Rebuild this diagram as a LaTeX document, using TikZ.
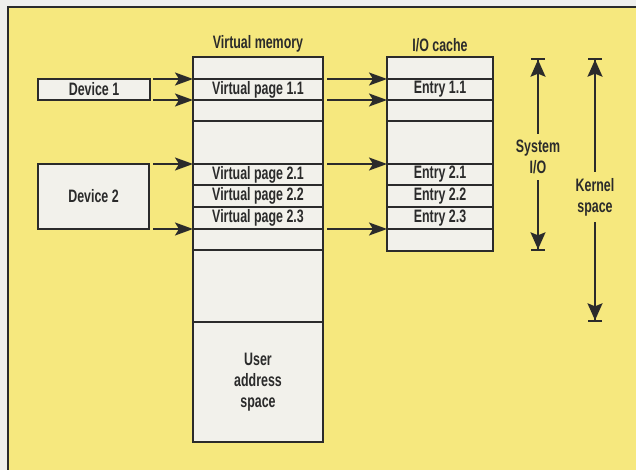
\documentclass[tikz,border=0pt]{standalone}
\usepackage{fontspec}
\setmainfont{Liberation Sans}[FakeStretch=0.69]
\usetikzlibrary{arrows.meta, positioning}
\definecolor{PanelYellow}{HTML}{F6E87E}
\definecolor{PanelOut}{HTML}{EFEFEC}
\definecolor{CellFill}{HTML}{F2F1EB}
\definecolor{InkDark}{HTML}{2B2B2B}

\begin{document}
\begin{tikzpicture}[x=1pt, y=-1pt,
  cell/.style={draw=InkDark, line width=1.3pt, fill=CellFill, inner sep=0pt, outer sep=0pt, align=center, font=\bfseries\fontsize{18}{21}\selectfont, text=InkDark},
  vmcell/.style={cell, minimum width=130pt},
  iocell/.style={cell, minimum width=106pt},
  head/.style={font=\bfseries\fontsize{18}{21}\selectfont, text=InkDark, align=center, inner sep=1pt},
  arrow/.style={-{Stealth[length=18pt, width=13pt, inset=4pt]}, line width=1.7pt, draw=InkDark},
  rangearrow/.style={{Bar[width=14pt]Stealth[length=17pt, width=15pt, inset=3pt]}-{Stealth[length=17pt, width=15pt, inset=3pt]Bar[width=14pt]}, line width=1.7pt, draw=InkDark}
]
  \useasboundingbox (0,0) rectangle (636,470);
  \clip (0,0) rectangle (636,470);
  \fill[PanelOut] (0,0) rectangle (636,470);
  \draw[fill=PanelYellow, draw=InkDark, line width=1.2pt] (8,7) rectangle (650,480);

  % virtual memory column
  \node[vmcell, anchor=north west, minimum height=22pt] (vm0) at (193,57) {};
  \node[vmcell, minimum height=21pt, below=0pt of vm0] (vp11) {Virtual page 1.1};
  \node[vmcell, minimum height=21pt, below=0pt of vp11] (vm2) {};
  \node[vmcell, minimum height=43pt, below=0pt of vm2] (vm3) {};
  \node[vmcell, minimum height=21pt, below=0pt of vm3] (vp21) {Virtual page 2.1};
  \node[vmcell, minimum height=22pt, below=0pt of vp21] (vp22) {Virtual page 2.2};
  \node[vmcell, minimum height=22pt, below=0pt of vp22] (vp23) {Virtual page 2.3};
  \node[vmcell, minimum height=21pt, below=0pt of vp23] (vm7) {};
  \node[vmcell, minimum height=72pt, below=0pt of vm7] (vm8) {};
  \node[vmcell, minimum height=120pt, below=0pt of vm8] (user) {User\\address\\space};
  \node[head, above=4pt of vm0] (vmhead) {Virtual memory};

  % I/O cache column
  \node[iocell, anchor=north west, minimum height=22pt] (io0) at (387,57) {};
  \node[iocell, minimum height=21pt, below=0pt of io0] (e11) {Entry 1.1};
  \node[iocell, minimum height=21pt, below=0pt of e11] (io2) {};
  \node[iocell, minimum height=43pt, below=0pt of io2] (io3) {};
  \node[iocell, minimum height=21pt, below=0pt of io3] (e21) {Entry 2.1};
  \node[iocell, minimum height=22pt, below=0pt of e21] (e22) {Entry 2.2};
  \node[iocell, minimum height=22pt, below=0pt of e22] (e23) {Entry 2.3};
  \node[iocell, minimum height=22pt, below=0pt of e23] (io7) {};
  \node[head, above=4pt of io0] (iohead) {I/O cache};

  % devices
  \node[cell, anchor=north west, minimum width=112pt, minimum height=21pt] (dev1) at (38,79) {Device 1};
  \node[cell, anchor=north west, minimum width=111pt, minimum height=65pt] (dev2) at (38,164) {Device 2};

  \draw[arrow] ([xshift=3pt]dev1.north east) -- (vp11.north west);
  \draw[arrow] ([xshift=3pt]dev1.south east) -- (vp11.south west);
  \draw[arrow] ([xshift=4pt]dev2.north east) -- (vp21.north west);
  \draw[arrow] ([xshift=4pt]dev2.south east) -- (vp23.south west);

  \draw[arrow] ([xshift=4pt]vp11.north east) -- (e11.north west);
  \draw[arrow] ([xshift=4pt]vp11.south east) -- (e11.south west);
  \draw[arrow] ([xshift=4pt]vp21.north east) -- (e21.north west);
  \draw[arrow] ([xshift=4pt]vp23.south east) -- (e23.south west);

  % range markers
  \coordinate (sysTop) at (538,58);
  \coordinate (sysBot) at (538,251);
  \coordinate (kerTop) at (595,58);
  \coordinate (kerBot) at (595,322);
  \draw[rangearrow] (sysTop) -- (sysBot);
  \draw[rangearrow] (kerTop) -- (kerBot);
  \node[head, fill=PanelYellow, inner xsep=2pt, inner ysep=6pt] (syslabel) at (538,157) {System\\I/O};
  \node[head, fill=PanelYellow, inner xsep=2pt, inner ysep=6pt] (kerlabel) at (595,197) {Kernel\\space};
\end{tikzpicture}
\end{document}
